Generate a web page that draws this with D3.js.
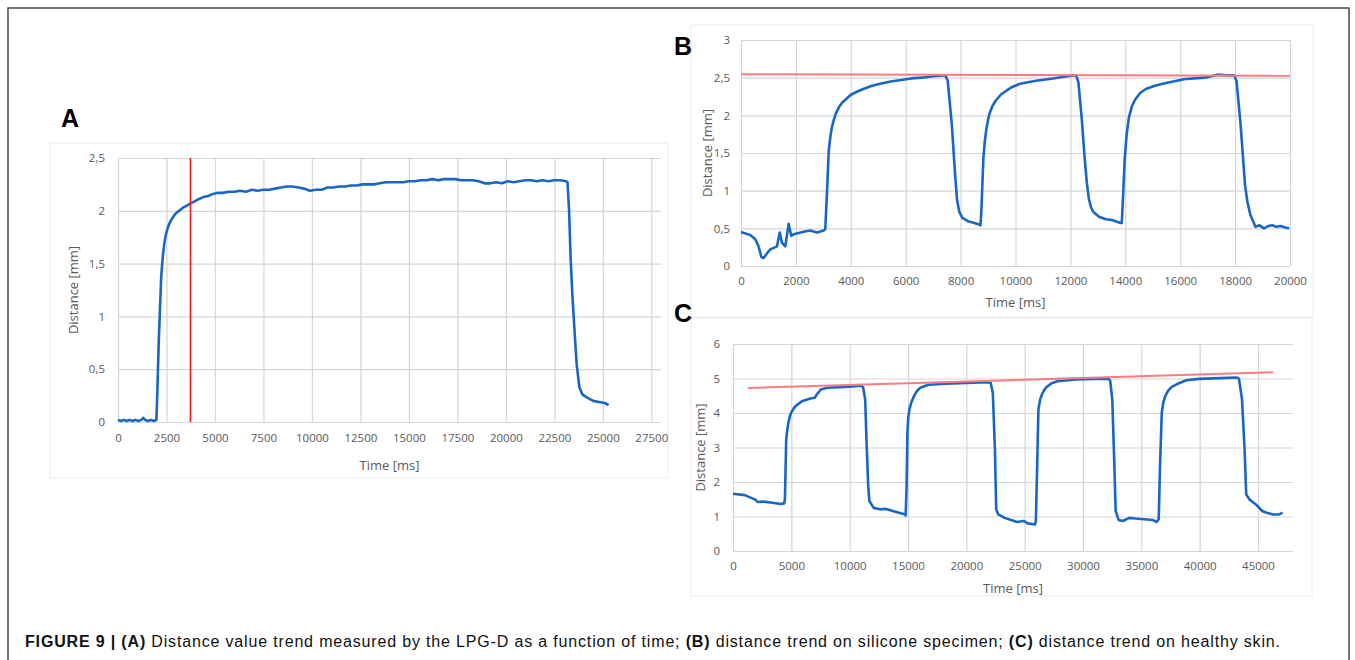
<!DOCTYPE html>
<html>
<head>
<meta charset="utf-8">
<script src="https://cdn.jsdelivr.net/npm/d3@7"></script>
<style>
  body { margin: 0; background: #fff; }
  svg { display: block; }
</style>
</head>
<body>
<svg id="fig" width="1355" height="660"></svg>
<script>
// ---- data ----

// panel A: distance [mm] vs time [ms]
const seriesA = [
  [0,0.02],[150,0.01],[300,0.02],[450,0.01],[600,0.02],[750,0.01],[900,0.02],[1050,0.01],[1200,0.02],[1300,0.04],
  [1400,0.02],[1550,0.01],[1700,0.02],[1850,0.01],[1980,0.02],
  [2030,0.3],[2100,0.75],[2170,1.1],[2230,1.38],[2300,1.55],[2380,1.68],[2450,1.76],[2550,1.83],[2650,1.88],
  [2800,1.93],[2950,1.97],[3150,2.0],[3350,2.03],[3550,2.05],[3750,2.07],[3950,2.09],[4150,2.11],[4400,2.13],
  [4650,2.14],[4900,2.16],[5150,2.17],[5400,2.17],[5700,2.18],[6000,2.18],[6300,2.19],[6600,2.18],[6900,2.2],
  [7200,2.19],[7500,2.2],[7800,2.2],[8100,2.21],[8400,2.22],[8700,2.23],[9000,2.23],[9300,2.22],[9600,2.21],
  [9900,2.19],[10200,2.2],[10500,2.2],[10800,2.22],[11100,2.22],[11400,2.23],[11700,2.23],[12000,2.24],
  [12300,2.24],[12600,2.25],[12900,2.25],[13200,2.25],[13500,2.26],[13800,2.27],[14100,2.27],[14400,2.27],
  [14700,2.27],[15000,2.28],[15300,2.28],[15600,2.29],[15900,2.29],[16200,2.3],[16500,2.29],[16800,2.3],
  [17100,2.3],[17400,2.3],[17700,2.29],[18000,2.29],[18300,2.29],[18600,2.28],[18900,2.26],[19200,2.26],
  [19500,2.27],[19800,2.26],[20100,2.28],[20400,2.27],[20700,2.28],[21000,2.29],[21300,2.29],[21600,2.28],
  [21900,2.29],[22200,2.28],[22500,2.29],[22800,2.29],[23100,2.28],[23180,2.27],
  [23260,2.0],[23340,1.55],[23430,1.2],[23530,0.9],[23650,0.55],[23790,0.33],[23950,0.26],[24200,0.23],
  [24500,0.2],[24800,0.19],[25100,0.18],[25300,0.16]
];
const markerTimeA = 3736;
const xTicksA = [0,2500,5000,7500,10000,12500,15000,17500,20000,22500,25000,27500];
const yTicksA = [0,0.5,1,1.5,2,2.5];

// panel B: silicone specimen
const seriesB = [
  [0,0.45],[340,0.41],[520,0.355],[640,0.26],[740,0.12],[825,0.105],[950,0.17],[1070,0.22],[1310,0.26],
  [1410,0.445],[1490,0.31],[1615,0.26],[1735,0.56],[1830,0.4],[1920,0.42],[2280,0.455],[2520,0.47],
  [2770,0.445],[3010,0.47],[3070,0.49],
  [3130,0.95],[3195,1.52],[3250,1.7],[3300,1.82],[3380,1.94],[3460,2.03],[3570,2.11],[3690,2.17],[3840,2.22],
  [3990,2.27],[4200,2.31],[4455,2.35],[4750,2.39],[5070,2.42],[5450,2.45],[5840,2.47],[6200,2.49],[6600,2.5],
  [7000,2.52],[7370,2.53],[7450,2.53],
  [7530,2.46],[7680,1.88],[7800,1.21],[7870,0.88],[7950,0.72],[8065,0.64],[8295,0.59],[8500,0.57],[8680,0.55],
  [8725,0.54],
  [8755,0.72],[8830,1.43],[8880,1.65],[8940,1.82],[9000,1.94],[9060,2.03],[9170,2.13],[9290,2.2],[9480,2.28],
  [9680,2.33],[9900,2.38],[10140,2.415],[10450,2.44],[10750,2.46],[11370,2.49],[11700,2.51],[12060,2.53],
  [12210,2.53],
  [12290,2.44],[12410,1.97],[12520,1.43],[12600,1.1],[12670,0.9],[12750,0.78],[12830,0.72],[13055,0.65],
  [13300,0.62],[13520,0.61],[13825,0.57],[13870,0.57],
  [13900,0.77],[13980,1.43],[14050,1.75],[14130,1.97],[14240,2.12],[14360,2.21],[14550,2.3],[14750,2.35],
  [15050,2.39],[15360,2.42],[15750,2.45],[16130,2.48],[16500,2.49],[16900,2.5],[17360,2.54],[17700,2.53],
  [17970,2.53],
  [18050,2.46],[18200,1.88],[18360,1.08],[18450,0.85],[18555,0.68],[18740,0.52],[18890,0.54],[19050,0.5],
  [19200,0.53],[19350,0.54],[19500,0.52],[19660,0.53],[19820,0.51],[19970,0.5]
];
const trendB = [[0,2.545],[20000,2.525]];
const xTicksB = [0,2000,4000,6000,8000,10000,12000,14000,16000,18000,20000];
const yTicksB = [0,0.5,1,1.5,2,2.5,3];

// panel C: healthy skin
const seriesC = [
  [0,1.66],[1010,1.62],[1560,1.54],[1920,1.49],[2100,1.42],[2640,1.43],[3370,1.4],[4090,1.36],[4380,1.38],
  [4450,1.49],[4560,3.23],[4650,3.5],[4740,3.7],[4870,3.9],[5000,4.02],[5180,4.12],[5360,4.2],[5900,4.34],
  [6630,4.42],[7000,4.44],[7170,4.53],[7530,4.68],[8070,4.73],[9160,4.75],[10250,4.77],[10970,4.79],[11150,4.75],
  [11330,4.39],[11440,3.23],[11590,1.88],[11690,1.45],[12060,1.25],[12600,1.21],[13140,1.22],[13690,1.16],
  [14230,1.11],[14770,1.06],[14800,1.03],
  [14880,1.88],[14950,3.42],[15020,3.85],[15130,4.12],[15300,4.32],[15500,4.48],[15750,4.63],[16040,4.73],
  [16760,4.82],[18210,4.85],[20020,4.87],[21830,4.89],[22090,4.87],
  [22270,4.58],[22450,2.94],[22560,1.21],[22740,1.06],[23280,0.96],[23820,0.9],[24370,0.84],[24910,0.87],
  [25270,0.8],[25890,0.77],[25960,0.87],
  [26070,2.46],[26180,4.1],[26320,4.38],[26470,4.53],[26680,4.67],[26900,4.76],[27300,4.86],[27810,4.92],
  [29440,4.97],[30880,4.99],[32150,4.99],[32330,4.94],
  [32510,4.39],[32690,2.46],[32800,1.16],[33050,0.9],[33420,0.87],[33960,0.96],[34500,0.94],[35230,0.92],
  [35950,0.9],[36310,0.84],[36490,0.92],
  [36600,2.46],[36750,4.0],[36880,4.3],[37040,4.48],[37300,4.65],[37580,4.75],[38120,4.85],[38850,4.95],
  [39930,4.99],[41750,5.01],[43190,5.03],[43370,4.99],
  [43630,4.39],[43850,2.94],[43990,1.64],[44280,1.49],[44820,1.35],[45360,1.16],[45730,1.11],[46270,1.06],
  [46810,1.06],[47100,1.11]
];
const trendC = [[1300,4.725],[46300,5.18]];
const xTicksC = [0,5000,10000,15000,20000,25000,30000,35000,40000,45000];
const yTicksC = [0,1,2,3,4,5,6];

const caption = [
  ["FIGURE 9 | (A)", true], [" Distance value trend measured by the LPG-D as a function of time; ", false],
  ["(B)", true], [" distance trend on silicone specimen; ", false],
  ["(C)", true], [" distance trend on healthy skin.", false]
];

// ---- drawing ----
const svg = d3.select("#fig");
const comma = d3.formatLocale({ decimal: ",", thousands: "", grouping: [3], currency: ["", ""] });
const fmtNum = d => comma.format("~g")(d);

const gridColor = "#d6d6d6", labelColor = "#595959", blue = "#1867c7";

// outer frame of the figure page
svg.append("path")
  .attr("d", "M8,668 L8,8 L1349,8 L1349,668")
  .attr("fill", "none")
  .attr("stroke", "#4a4a4a")
  .attr("stroke-width", 1.5);

function drawPanel(p) {
  // chart area box
  svg.append("rect")
    .attr("x", p.box[0]).attr("y", p.box[1])
    .attr("width", p.box[2]).attr("height", p.box[3])
    .attr("fill", "none").attr("stroke", "#ececec");

  const x = d3.scaleLinear().domain(p.xDomain).range([p.left, p.right]);
  const y = d3.scaleLinear().domain(p.yDomain).range([p.bottom, p.top]);
  const g = svg.append("g").attr("font-family", "'Open Sans', sans-serif");

  // horizontal gridlines + y labels
  g.append("g")
    .attr("transform", `translate(${p.left},0)`)
    .call(d3.axisLeft(y).tickValues(p.yTicks).tickSize(-(p.right - p.left)).tickPadding(p.yPad).tickFormat(fmtNum))
    .call(s => s.select(".domain").remove())
    .call(s => s.selectAll("line").attr("stroke", gridColor).attr("stroke-width", 1.2))
    .call(s => s.selectAll("text").attr("fill", labelColor).attr("font-size", 11.5).attr("font-family", "'Open Sans', sans-serif"));

  // vertical gridlines + x labels
  g.append("g")
    .attr("transform", `translate(0,${p.bottom})`)
    .call(d3.axisBottom(x).tickValues(p.xTicks).tickSize(-(p.bottom - p.top)).tickPadding(p.xPad).tickFormat(d3.format("d")))
    .call(s => s.select(".domain").remove())
    .call(s => s.selectAll("line").attr("stroke", gridColor).attr("stroke-width", 1.2))
    .call(s => s.selectAll("text").attr("fill", labelColor).attr("font-size", 11.5).attr("font-family", "'Open Sans', sans-serif"));

  // axis titles
  g.append("text")
    .attr("transform", `translate(${p.yTitleX},${(p.top + p.bottom) / 2}) rotate(-90)`)
    .attr("text-anchor", "middle").attr("dy", "0.35em")
    .attr("fill", labelColor).attr("font-size", 13)
    .text("Distance [mm]");
  g.append("text")
    .attr("x", (p.left + p.right) / 2).attr("y", p.xTitleY)
    .attr("text-anchor", "middle").attr("dy", "0.35em")
    .attr("fill", labelColor).attr("font-size", 13)
    .text("Time [ms]");

  // measured curve
  const line = d3.line().x(d => x(d[0])).y(d => y(d[1]));
  g.append("path")
    .datum(p.series)
    .attr("fill", "none").attr("stroke", blue)
    .attr("stroke-width", 2.6).attr("stroke-linejoin", "round")
    .attr("d", line);

  // red reference lines
  if (p.marker !== undefined) {
    g.append("line")
      .attr("x1", x(p.marker)).attr("x2", x(p.marker))
      .attr("y1", y(p.yDomain[1])).attr("y2", y(p.yDomain[0]))
      .attr("stroke", "#ff1a1a").attr("stroke-width", 1.6);
  }
  if (p.trend) {
    g.append("path")
      .datum(p.trend)
      .attr("fill", "none").attr("stroke", "#ff7a80").attr("stroke-width", 2)
      .attr("d", line);
  }

  // panel letter
  svg.append("text")
    .attr("x", p.letterPos[0]).attr("y", p.letterPos[1])
    .attr("font-family", "'Liberation Sans', Arial, sans-serif")
    .attr("font-weight", "bold").attr("font-size", 25)
    .text(p.letter);
}

drawPanel({
  letter: "A", letterPos: [61, 127],
  box: [50, 143, 618, 335],
  left: 118, right: 661, top: 158, bottom: 422,
  xDomain: [0, 28000], yDomain: [0, 2.5],
  xTicks: xTicksA, yTicks: yTicksA, yPad: 13, xPad: 12,
  yTitleX: 73, xTitleY: 465,
  series: seriesA, marker: markerTimeA
});

drawPanel({
  letter: "B", letterPos: [674, 55],
  box: [691, 25, 622, 292],
  left: 741, right: 1290, top: 40, bottom: 266,
  xDomain: [0, 20000], yDomain: [0, 3],
  xTicks: xTicksB, yTicks: yTicksB, yPad: 11, xPad: 11,
  yTitleX: 707, xTitleY: 302,
  series: seriesB, trend: trendB
});

drawPanel({
  letter: "C", letterPos: [674, 322],
  box: [691, 318, 621, 278],
  left: 733, right: 1293, top: 344, bottom: 551,
  xDomain: [0, 48000], yDomain: [0, 6],
  xTicks: xTicksC, yTicks: yTicksC, yPad: 13, xPad: 11,
  yTitleX: 700, xTitleY: 588,
  series: seriesC, trend: trendC
});

// caption
const cap = svg.append("text")
  .attr("x", 25).attr("y", 647)
  .attr("font-family", "'Liberation Sans', Arial, sans-serif")
  .attr("font-size", 16).attr("fill", "#111")
  .attr("textLength", 1255);
cap.selectAll("tspan")
  .data(caption)
  .join("tspan")
    .attr("font-weight", d => d[1] ? "bold" : "normal")
    .text(d => d[0]);
</script>
</body>
</html>
